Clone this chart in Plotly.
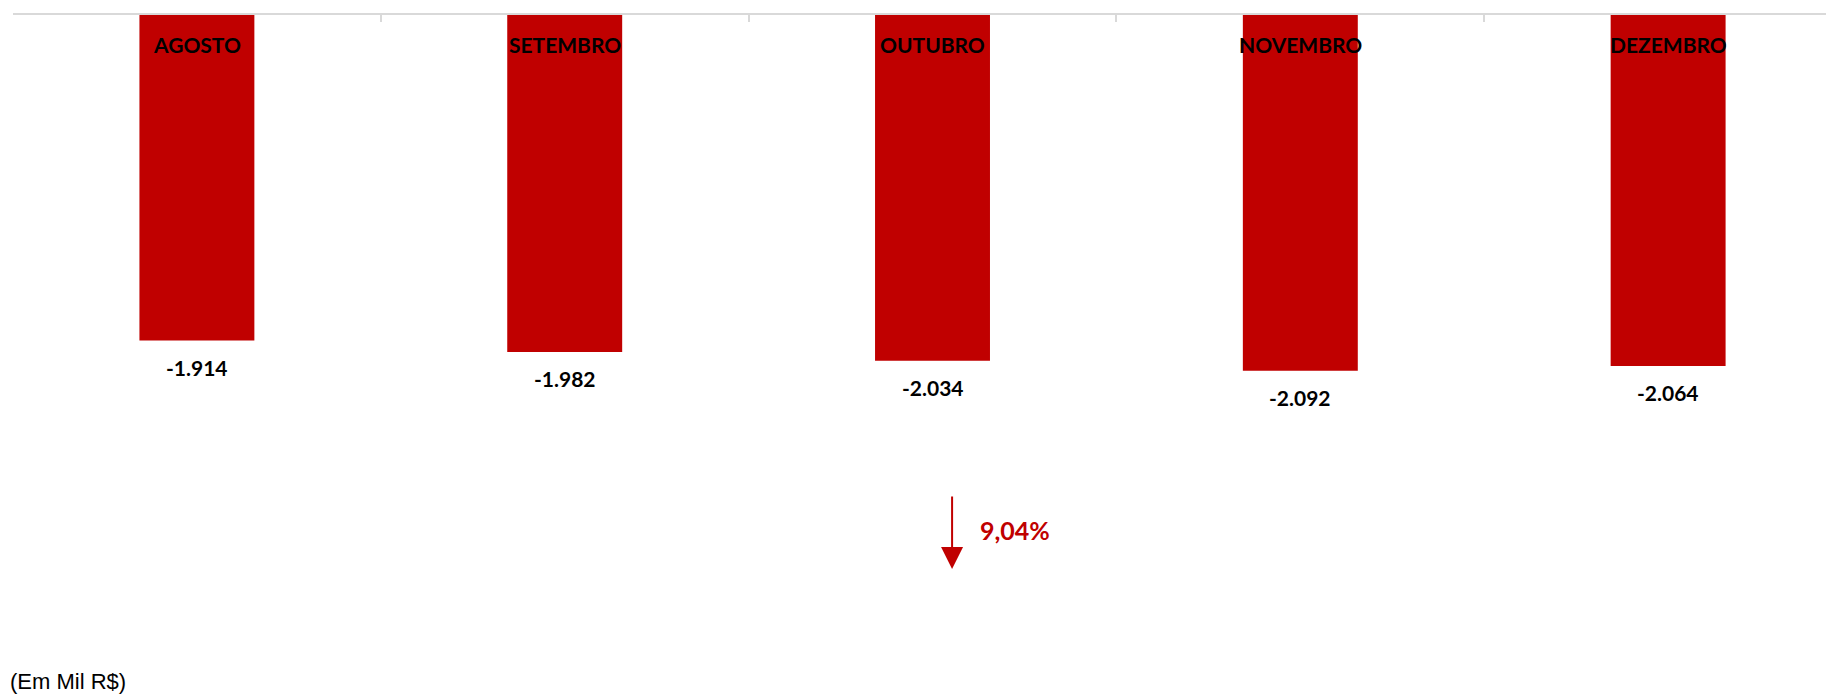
import plotly.graph_objects as go

meses = ["AGOSTO", "SETEMBRO", "OUTUBRO", "NOVEMBRO", "DEZEMBRO"]
valores = [-1914, -1982, -2034, -2092, -2064]
rotulos = ["-1.914", "-1.982", "-2.034", "-2.092", "-2.064"]
variacao = "9,04%"
unidade = "(Em Mil R$)"

RED = "#C00000"
FONT = "Lato"

fig = go.Figure()
fig.add_trace(go.Bar(
    x=meses, y=valores, width=0.3125,
    marker=dict(color=RED, line=dict(width=0)),
    hoverinfo="skip",
))

annotations = []
for m, v, t in zip(meses, valores, rotulos):
    annotations.append(dict(
        x=m, y=v, xref="x", yref="y", text="<b>" + t + "</b>", showarrow=False,
        yanchor="middle", yshift=-27,
        font=dict(family=FONT, size=21, color="black"),
    ))

# category labels inside the bars, near the top axis
for m in meses:
    annotations.append(dict(
        x=m, y=1, xref="x", yref="paper", text="<b>" + m + "</b>", showarrow=False,
        yanchor="middle", yshift=-29,
        font=dict(family=FONT, size=21, color="black"),
    ))

# variation arrow
annotations.append(dict(
    x=0.5157, y=0.053, xref="paper", yref="paper", text="",
    showarrow=True, ax=0, ay=-74, axref="pixel", ayref="pixel",
    arrowhead=2, arrowsize=2.2, arrowwidth=2, arrowcolor=RED,
))
annotations.append(dict(
    x=0.5157, y=0.053, xref="paper", yref="paper", text="<b>" + variacao + "</b>",
    showarrow=False, xanchor="left", yanchor="middle", xshift=26, yshift=39,
    font=dict(family=FONT, size=25, color=RED),
))
annotations.append(dict(
    x=0, y=-0.14, xref="paper", yref="paper", text=unidade,
    showarrow=False, xanchor="left", yanchor="middle", xshift=-5,
    font=dict(family="Liberation Sans, Arial", size=22, color="black"),
))

fig.update_layout(
    width=1826, height=686,
    margin=dict(l=5, r=0, t=7, b=94),
    paper_bgcolor="white", plot_bgcolor="white",
    showlegend=False,
    annotations=annotations,
    xaxis=dict(
        side="top", range=[-0.5, 4.451], showticklabels=False,
        showline=True, linecolor="#d9d9d9", linewidth=2,
        ticks="inside", ticklen=7, tickcolor="#d9d9d9", tickwidth=1.5,
        tickson="boundaries", showgrid=False, zeroline=False,
    ),
    yaxis=dict(
        range=[-3441, 0], visible=False, showgrid=False, zeroline=False,
    ),
)

fig.write_html("out.html")
